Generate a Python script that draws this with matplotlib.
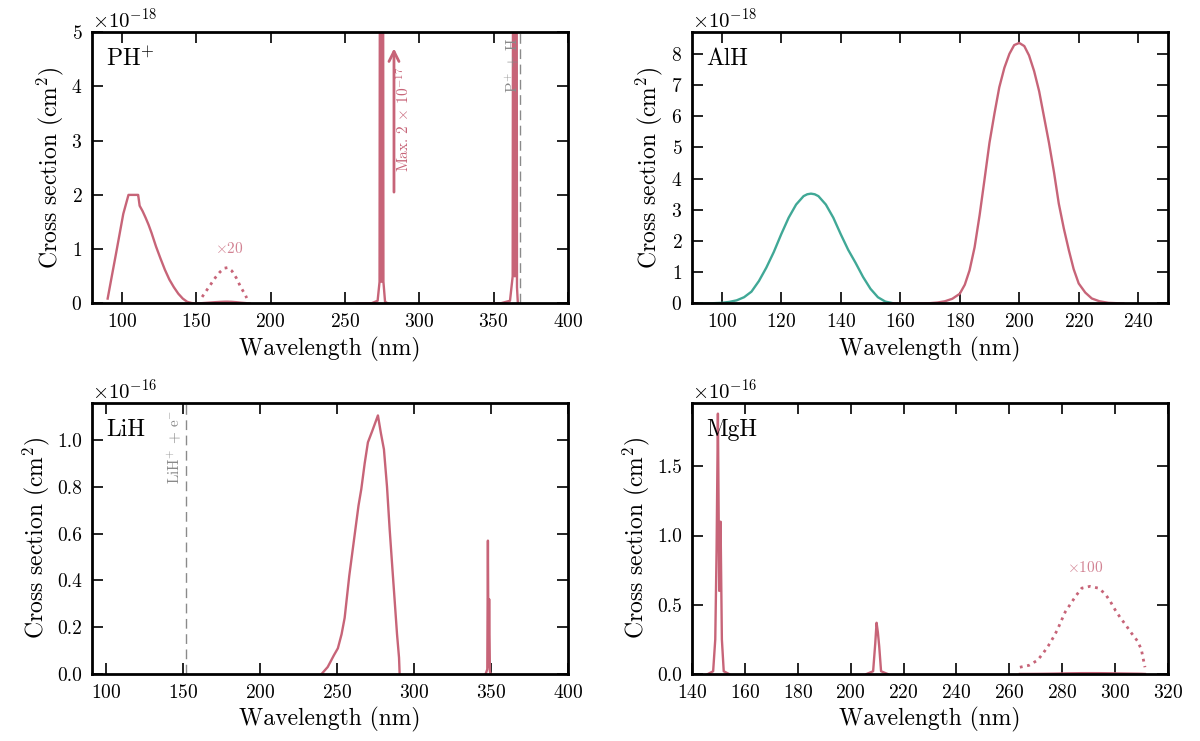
import matplotlib
matplotlib.use('Agg')
import matplotlib.pyplot as plt
import matplotlib.ticker as mticker
import numpy as np

plt.rcParams['font.family'] = ['cmr10', 'DejaVu Serif']
plt.rcParams['mathtext.fontset'] = 'cm'
plt.rcParams['axes.formatter.use_mathtext'] = True

pink = '#c76478'
teal = '#40a896'
grey = '#8a8a8a'

# ---- PH+ (units of 1e-18 cm^2) ----
ph_wl = [90.5, 93, 96, 99, 101, 103, 104.5, 106, 108, 110, 111, 112, 114, 116, 118,
         120, 123, 126, 129, 132, 135, 138, 141, 144, 147, 150]
ph_cs = [0.09, 0.46, 0.9, 1.35, 1.65, 1.85, 2.0, 2.0, 2.0, 2.0, 2.0, 1.8, 1.7, 1.58, 1.45,
         1.3, 1.05, 0.83, 0.62, 0.44, 0.3, 0.18, 0.09, 0.03, 0.008, 0.0]
ph_bump_wl = [150, 154, 157, 160, 163, 166, 169, 171, 174, 177, 180, 183, 184, 186]
ph_bump_x20 = [0.0, 0.12, 0.24, 0.36, 0.48, 0.58, 0.65, 0.66, 0.6, 0.47, 0.3, 0.16, 0.1, 0.0]
ph_spk1_wl = [258, 268, 272, 273.3, 274.0, 274.6, 275.2, 275.9, 277, 279]
ph_spk1_cs = [0.0, 0.005, 0.05, 0.4, 20, 0.4, 20, 0.4, 0.03, 0.0]
ph_spk2_wl = [308, 355, 361, 362.8, 363.6, 364.3, 365.0, 365.7, 366.3]
ph_spk2_cs = [0.0, 0.005, 0.05, 0.5, 20, 0.5, 20, 0.3, 0.0]
ph_thresh = 367.7

# ---- AlH (units of 1e-18 cm^2) ----
alh_b_wl = [92.5, 95, 97.5, 100, 102.5, 105, 107.5, 110, 112.5, 115, 117.5, 120, 122.5,
            125, 127.5, 128.75, 130, 131.25, 132.5, 135, 137.5, 140, 142.5, 145, 147.5,
            150, 152.5, 155, 157.5]
alh_b_cs = [0.0, 0.003, 0.01, 0.02, 0.05, 0.1, 0.2, 0.38, 0.72, 1.15, 1.65, 2.22, 2.75,
            3.17, 3.44, 3.5, 3.52, 3.5, 3.44, 3.17, 2.75, 2.22, 1.72, 1.3, 0.85,
            0.47, 0.2, 0.06, 0.01]
alh_a_wl = [157.5, 165, 170, 172.5, 175, 177.5, 180, 181.7, 183.3, 185, 186.7, 188.3, 190,
            191.7, 193.3, 195, 196.7, 198.3, 200, 201.7, 203.3, 205, 206.7, 208.3, 210,
            211.7, 213.3, 215, 216.7, 218.3, 220, 222.2, 224.4, 227, 230, 235]
alh_a_cs = [0.0, 0.002, 0.01, 0.03, 0.07, 0.15, 0.31, 0.6, 1.06, 1.8, 2.84, 3.95, 5.15,
            6.1, 6.93, 7.55, 8.0, 8.28, 8.35, 8.25, 7.95, 7.45, 6.8, 6.0, 5.15,
            4.2, 3.2, 2.4, 1.7, 1.1, 0.64, 0.35, 0.16, 0.07, 0.02, 0.0]

# ---- LiH (units of 1e-16 cm^2) ----
lih_wl = [240, 244, 248, 250.6, 253, 255, 258, 261.4, 264, 265.8, 268, 270.1, 273, 276.6,
          278.5, 280.5, 282.5, 284.2, 286, 287.4, 289, 290.3, 290.7]
lih_cs = [0.0, 0.03, 0.08, 0.11, 0.17, 0.24, 0.42, 0.59, 0.72, 0.79, 0.9, 0.99, 1.04, 1.105,
          1.03, 0.96, 0.8, 0.62, 0.45, 0.32, 0.17, 0.07, 0.0]
lih_spk_wl = [346.5, 347.6, 348.0, 348.4, 348.8, 349.3, 350]
lih_spk_cs = [0.0, 0.02, 0.57, 0.03, 0.32, 0.01, 0.0]
lih_thresh = 151.7

# ---- MgH (units of 1e-16 cm^2) ----
mgh_spk1_wl = [146, 148.0, 148.8, 149.3, 149.8, 150.3, 150.8, 151.3, 152, 154]
mgh_spk1_cs = [0.0, 0.02, 0.25, 0.9, 1.88, 0.6, 1.1, 0.25, 0.02, 0.0]
mgh_spk2_wl = [206, 208.5, 209.3, 209.8, 210.3, 210.8, 211.5, 214]
mgh_spk2_cs = [0.0, 0.02, 0.22, 0.37, 0.3, 0.2, 0.02, 0.0]
mgh_tail_wl = [264.0, 267.5, 270.7, 272.8, 274.8, 276.7, 278.2, 279.7, 281.2, 283.3, 285.2,
               287.4, 290.5, 293.7, 296.2, 298.2, 300.0, 302.0, 304.0, 306.2, 308.4, 309.9,
               310.6, 311.3]
mgh_tail_x100 = [0.049, 0.063, 0.10, 0.15, 0.205, 0.266, 0.32, 0.386, 0.45, 0.51, 0.565,
                 0.62, 0.633, 0.62, 0.58, 0.524, 0.464, 0.406, 0.355, 0.295, 0.24, 0.18,
                 0.114, 0.049]

fig, axes = plt.subplots(2, 2, figsize=(12, 7.41), dpi=100)
fig.subplots_adjust(left=0.0767, right=0.9733, bottom=0.0904, top=0.9568,
                    wspace=0.2605, hspace=0.365)
ax1, ax2 = axes[0]
ax3, ax4 = axes[1]

lw = 1.7
e18 = 1e-18
e16 = 1e-16

# PH+
ax1.plot(ph_wl, np.array(ph_cs) * e18, color=pink, lw=lw)
ax1.plot(ph_bump_wl, np.array(ph_bump_x20) / 20 * e18, color=pink, lw=lw)
ax1.plot(ph_bump_wl[1:-1], np.array(ph_bump_x20[1:-1]) * e18, color=pink, lw=2, ls=':')
ax1.plot(ph_spk1_wl, np.array(ph_spk1_cs) * e18, color=pink, lw=lw)
ax1.plot(ph_spk2_wl, np.array(ph_spk2_cs) * e18, color=pink, lw=lw)
ax1.axvline(ph_thresh, color=grey, ls='--', lw=1, dashes=(7, 4))
ax1.text(362.5, 4.9 * e18, r'P$^{+}$ + H', rotation=90, color=grey, fontsize=11,
         ha='center', va='top')
ax1.text(172.5, 1.02 * e18, r'$\times$20', color=pink, alpha=0.8, fontsize=11,
         ha='center', va='center')
ax1.annotate('', xy=(283, 4.75 * e18), xytext=(283, 2.0 * e18),
             arrowprops=dict(arrowstyle='->', color=pink, lw=2, mutation_scale=18))
ax1.text(289.5, 3.4 * e18, r'Max. 2 $\times$ 10$^{-17}$', rotation=90, color=pink,
         fontsize=11, ha='center', va='center')
ax1.set_xlim(80, 400)
ax1.set_ylim(0, 5 * e18)
ax1.set_yticks(np.arange(0, 6) * e18)
ax1.text(0.03, 0.9, r'PH$^{+}$', transform=ax1.transAxes, fontsize=17, va='center')

# AlH
ax2.plot(alh_b_wl, np.array(alh_b_cs) * e18, color=teal, lw=lw)
ax2.plot(alh_a_wl, np.array(alh_a_cs) * e18, color=pink, lw=lw)
ax2.set_xlim(90, 250)
ax2.set_xticks(np.arange(100, 241, 20))
ax2.set_ylim(0, 8.7 * e18)
ax2.set_yticks(np.arange(0, 9) * e18)
ax2.text(0.03, 0.9, 'AlH', transform=ax2.transAxes, fontsize=17, va='center')

# LiH
ax3.plot(lih_wl, np.array(lih_cs) * e16, color=pink, lw=lw)
ax3.plot(lih_spk_wl, np.array(lih_spk_cs) * e16, color=pink, lw=lw)
ax3.axvline(lih_thresh, color=grey, ls='--', lw=1, dashes=(7, 4))
ax3.text(144.5, 1.13 * e16, r'LiH$^{+}$ + e$^{-}$', rotation=90, color=grey, fontsize=11,
         ha='center', va='top')
ax3.set_xlim(91, 400)
ax3.set_xticks(np.arange(100, 401, 50))
ax3.set_ylim(0, 1.16 * e16)
ax3.set_yticks(np.arange(0, 1.01, 0.2) * e16)
ax3.text(0.03, 0.9, 'LiH', transform=ax3.transAxes, fontsize=17, va='center')

# MgH
ax4.plot(mgh_spk1_wl, np.array(mgh_spk1_cs) * e16, color=pink, lw=lw)
ax4.plot(mgh_spk2_wl, np.array(mgh_spk2_cs) * e16, color=pink, lw=lw)
ax4.plot(mgh_tail_wl, np.array(mgh_tail_x100) / 100 * e16, color=pink, lw=lw)
ax4.plot(mgh_tail_wl, np.array(mgh_tail_x100) * e16, color=pink, lw=2, ls=':')
ax4.text(288.6, 0.77 * e16, r'$\times$100', color=pink, alpha=0.8, fontsize=11,
         ha='center', va='center')
ax4.set_xlim(140, 320)
ax4.set_xticks(np.arange(140, 321, 20))
ax4.set_ylim(0, 1.96 * e16)
ax4.set_yticks(np.arange(0, 1.6, 0.5) * e16)
ax4.text(0.03, 0.9, 'MgH', transform=ax4.transAxes, fontsize=17, va='center')


class OneDec(mticker.ScalarFormatter):
    def _set_format(self):
        self.format = '%1.1f'


for ax in [ax1, ax2, ax3, ax4]:
    if ax in (ax3, ax4):
        fmt = OneDec(useMathText=True)
    else:
        fmt = mticker.ScalarFormatter(useMathText=True)
    fmt.set_scientific(True)
    fmt.set_powerlimits((0, 0))
    ax.yaxis.set_major_formatter(fmt)
    ax.yaxis.get_offset_text().set_fontsize(15)
    ax.set_xlabel('Wavelength (nm)', fontsize=17)
    ax.set_ylabel(r'Cross section (cm$^{2}$)', fontsize=17)
    ax.tick_params(direction='in', top=True, right=True, length=8, width=1.2,
                   labelsize=14, pad=7)
    for s in ax.spines.values():
        s.set_linewidth(2)

plt.savefig('out.png', dpi=100)
